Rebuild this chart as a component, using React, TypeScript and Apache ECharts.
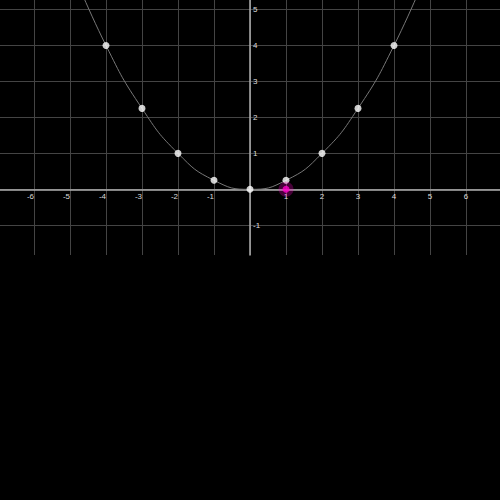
import React, { useEffect, useRef } from "react";
import * as echarts from "echarts";

const curveX = [-5, -4, -3, -2, -1, 0, 1, 2, 3, 4, 5];
const curveY = [6.25, 4, 2.25, 1, 0.25, 0, 0.25, 1, 2.25, 4, 6.25];
const pointX = [-4, -3, -2, -1, 0, 1, 2, 3, 4];
const pointY = [4, 2.25, 1, 0.25, 0, 0.25, 1, 2.25, 4];
const focusPoint = [1, 0];
const xTicks = [-6, -5, -4, -3, -2, -1, 0, 1, 2, 3, 4, 5, 6];
const yTicks = [-1, 0, 1, 2, 3, 4, 5];
const xLabels = [-6, -5, -4, -3, -2, -1, 1, 2, 3, 4, 5, 6];
const yLabels = [-1, 1, 2, 3, 4, 5];

export default function App() {
  const ref = useRef<HTMLDivElement>(null);
  useEffect(() => {
    if (!ref.current) return;
    const chart = echarts.init(ref.current, null, { renderer: "svg" });
    const curve = curveX.map((x, i) => [x, curveY[i]]);
    const pts = pointX.map((x, i) => [x, pointY[i]]);
    chart.setOption({
      animation: false,
      backgroundColor: "#000",
      grid: { left: 0, right: 0, top: 0, height: 255 },
      xAxis: {
        type: "value",
        min: -6.944,
        max: 6.944,
        position: "bottom",
        offset: -65.5,
        axisLine: { onZero: false, lineStyle: { color: "#b0b0b0", width: 1.5 } },
        axisTick: { show: false, customValues: xTicks },
        splitLine: { show: true, lineStyle: { color: "#444", width: 1 } },
        axisLabel: {
          customValues: xLabels,
          color: "#ddd",
          fontSize: 8,
          margin: 3,
          formatter: (v: number) => (v < 0 ? `{n|${v}}` : `${v}`),
          rich: { n: { fontSize: 8, color: "#ddd", padding: [0, 7, 0, 0] } },
        },
      },
      yAxis: {
        type: "value",
        min: -1.826,
        max: 5.264,
        position: "left",
        offset: -250,
        axisLine: { onZero: false, lineStyle: { color: "#b0b0b0", width: 1.5 } },
        axisTick: { show: false, customValues: yTicks },
        splitLine: { show: true, lineStyle: { color: "#444", width: 1 } },
        axisLabel: {
          customValues: yLabels,
          inside: true,
          color: "#ddd",
          fontSize: 8,
          margin: 3,
        },
      },
      series: [
        {
          type: "line",
          data: curve,
          smooth: true,
          showSymbol: false,
          lineStyle: { color: "#777", width: 1 },
          silent: true,
          z: 2,
        },
        {
          type: "scatter",
          data: pts,
          symbolSize: 7,
          itemStyle: { color: "#fff" },
          z: 3,
        },
        {
          type: "scatter",
          data: [focusPoint],
          symbolSize: 15,
          itemStyle: { color: "rgba(255,0,200,0.35)" },
          z: 4,
        },
        {
          type: "scatter",
          data: [focusPoint],
          symbolSize: 7,
          itemStyle: { color: "#ff00c8" },
          z: 5,
        },
      ],
    });
    return () => chart.dispose();
  }, []);
  return (
    <div
      ref={ref}
      style={{ position: "fixed", left: 0, top: 0, width: 500, height: 500 }}
    />
  );
}
